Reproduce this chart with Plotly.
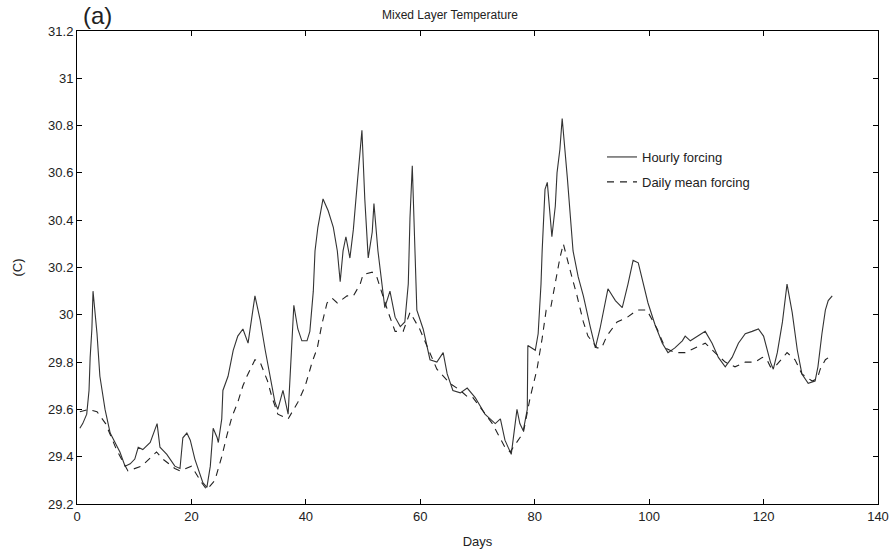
import plotly.graph_objects as go

# Hourly forcing (solid)
hourly_days = [0.5, 1.0, 1.7, 2.1, 2.3, 2.6, 2.8, 3.1, 3.5, 4.0, 4.9, 5.8, 6.6, 7.5, 8.4, 9.3,
               10.1, 10.7, 11.5, 12.8, 14.0, 14.5, 15.7, 17.1, 18.0, 18.5, 19.2, 19.8, 20.6,
               21.5, 22.0, 22.7, 23.3, 23.8, 24.5, 24.7, 25.3, 25.5, 26.4, 27.3, 28.1, 29.0,
               29.9, 31.1, 32.0, 32.9, 33.7, 34.6, 35.1, 36.0, 36.9, 37.6, 37.9, 38.6, 39.3,
               40.2, 40.7, 41.3, 41.6, 42.1, 43.0, 43.9, 44.8, 45.5, 46.0, 46.5, 47.0, 47.7,
               48.3, 49.0, 49.5, 49.8, 50.3, 50.9, 51.6, 51.9, 52.6, 53.3, 53.8, 54.7, 55.6,
               56.5, 57.3, 57.9, 58.2, 58.6, 59.1, 59.4, 60.5, 61.7, 62.9, 64.0, 64.7, 65.7,
               67.0, 68.2, 69.6, 71.3, 73.1, 74.0, 74.8, 75.9, 76.9, 77.4, 78.0, 78.7, 78.8,
               79.5, 80.1, 80.6, 81.1, 81.3, 81.8, 82.2, 82.7, 83.0, 83.6, 83.9, 84.4, 84.8,
               85.7, 86.2, 86.7, 87.6, 88.5, 89.7, 90.6, 91.4, 92.3, 92.8, 94.1, 95.3, 96.3,
               97.2, 98.1, 99.0, 99.8, 101.0, 102.3, 103.3, 104.5, 105.8, 106.3, 107.2, 108.6,
               109.8, 111.0, 112.1, 113.3, 114.5, 115.6, 116.8, 118.0, 119.1, 120.0, 120.6,
               121.2, 121.7, 122.4, 123.3, 124.1, 125.0, 125.9, 126.7, 127.8, 129.0, 129.5,
               130.2, 130.8, 131.3, 132.0]
hourly_temp = [29.52, 29.54, 29.58, 29.68, 29.82, 29.94, 30.10, 30.02, 29.92, 29.74, 29.60, 29.50,
               29.46, 29.42, 29.36, 29.37, 29.39, 29.44, 29.43, 29.46, 29.54, 29.44, 29.41, 29.36,
               29.35, 29.48, 29.50, 29.47, 29.39, 29.33, 29.29, 29.27, 29.36, 29.52, 29.48, 29.46,
               29.56, 29.68, 29.74, 29.85, 29.91, 29.94, 29.88, 30.08, 29.98, 29.85, 29.74, 29.63,
               29.60, 29.68, 29.58, 29.91, 30.04, 29.94, 29.89, 29.89, 29.93, 30.10, 30.27, 30.37,
               30.49, 30.44, 30.37, 30.27, 30.14, 30.27, 30.33, 30.24, 30.36, 30.56, 30.68, 30.78,
               30.49, 30.24, 30.35, 30.47, 30.27, 30.12, 30.03, 30.10, 29.99, 29.95, 29.97, 30.13,
               30.41, 30.63, 30.25, 30.02, 29.94, 29.81, 29.80, 29.84, 29.75, 29.68, 29.67, 29.69,
               29.65, 29.58, 29.54, 29.56, 29.47, 29.41, 29.60, 29.54, 29.51, 29.60, 29.87, 29.86,
               29.85, 29.92, 30.13, 30.27, 30.53, 30.56, 30.39, 30.33, 30.46, 30.60, 30.70, 30.83,
               30.58, 30.41, 30.27, 30.16, 30.08, 29.95, 29.86, 29.94, 30.06, 30.11, 30.06, 30.03,
               30.13, 30.23, 30.22, 30.13, 30.05, 29.96, 29.88, 29.84, 29.86, 29.89, 29.91, 29.89,
               29.91, 29.93, 29.88, 29.82, 29.78, 29.82, 29.88, 29.92, 29.93, 29.94, 29.91, 29.85,
               29.80, 29.77, 29.84, 29.97, 30.13, 30.01, 29.85, 29.75, 29.71, 29.72, 29.78, 29.92,
               30.02, 30.06, 30.08]

# Daily mean forcing (dashed)
daily_days = [0.5, 2.0, 3.5, 5.0, 6.9, 8.9, 11.3, 13.9, 15.0, 17.1, 18.0, 20.0, 21.8, 22.7, 24.1,
              25.3, 26.2, 27.1, 28.1, 29.0, 29.7, 31.1, 32.0, 33.3, 34.1, 35.1, 36.9, 38.6, 39.9,
              41.1, 42.0, 42.8, 43.7, 44.6, 45.5, 47.2, 48.3, 49.5, 50.0, 51.6, 52.4, 53.3, 54.4,
              55.6, 57.0, 58.2, 59.9, 62.9, 64.0, 65.2, 67.0, 68.4, 69.2, 72.6, 74.8, 75.7, 77.4,
              78.0, 79.2, 80.4, 81.3, 82.0, 82.8, 83.6, 84.4, 85.0, 85.7, 86.5, 87.4, 88.5, 89.3,
              90.9, 91.7, 92.6, 94.4, 96.2, 97.9, 99.6, 101.4, 102.8, 104.5, 106.3, 108.0, 109.8,
              111.5, 113.3, 115.0, 116.8, 118.5, 119.8, 120.6, 121.2, 122.0, 123.3, 124.1, 125.5,
              126.7, 128.5, 129.4, 129.9, 130.8, 132.0]
daily_temp = [29.59, 29.60, 29.59, 29.54, 29.43, 29.34, 29.36, 29.42, 29.39, 29.35, 29.34, 29.36,
              29.29, 29.26, 29.30, 29.40, 29.49, 29.57, 29.63, 29.70, 29.74, 29.81, 29.80, 29.72,
              29.65, 29.58, 29.56, 29.63, 29.70, 29.80, 29.86, 29.96, 30.05, 30.07, 30.05, 30.08,
              30.08, 30.13, 30.17, 30.18, 30.16, 30.09, 30.01, 29.93, 29.93, 30.01, 29.94, 29.77,
              29.74, 29.71, 29.68, 29.65, 29.65, 29.54, 29.44, 29.42, 29.48, 29.50, 29.65, 29.77,
              29.90, 30.02, 30.03, 30.14, 30.24, 30.30, 30.23, 30.16, 30.08, 29.97, 29.91, 29.86,
              29.86, 29.91, 29.97, 29.99, 30.02, 30.02, 29.94, 29.86, 29.84, 29.84, 29.86, 29.88,
              29.84, 29.80, 29.78, 29.80, 29.80, 29.82, 29.81, 29.78, 29.78, 29.82, 29.84, 29.81,
              29.75, 29.72, 29.73, 29.77, 29.81, 29.83]

x_ticks = [0, 20, 40, 60, 80, 100, 120, 140]
y_ticks = [29.2, 29.4, 29.6, 29.8, 30.0, 30.2, 30.4, 30.6, 30.8, 31.0, 31.2]

FONT = "Liberation Sans, Arial, sans-serif"
TXT = "#222222"

fig = go.Figure()
fig.add_trace(go.Scatter(x=hourly_days, y=hourly_temp, mode="lines", name="Hourly forcing",
                         line=dict(color="#333333", width=1.1), legendgroup="a"))
fig.add_trace(go.Scatter(x=daily_days, y=daily_temp, mode="lines", name="Daily mean forcing",
                         line=dict(color="#222222", width=1.1, dash="7px,6px"), legendgroup="b"))

axis_common = dict(showline=True, linecolor="black", linewidth=1, mirror="ticks",
                   ticks="inside", ticklen=5, tickcolor="black", showgrid=False, zeroline=False,
                   automargin=False, tickfont=dict(family=FONT, size=13, color=TXT))

L, R, T, B = 77, 16, 31, 52
W, H = 894, 556
pw, ph = W - L - R, H - T - B


def px_to_paper(px, py):
    return (px - L) / pw, (H - B - py) / ph


tx, ty = px_to_paper(450, 15)
ax_, ay_ = px_to_paper(97, 15)
lx, ly = px_to_paper(602, 142)

fig.update_layout(
    width=W, height=H,
    margin=dict(l=L, r=R, t=T, b=B),
    paper_bgcolor="white", plot_bgcolor="white",
    xaxis=dict(range=[0, 140], tickvals=x_ticks, **axis_common,
               title=dict(text="Days", font=dict(family=FONT, size=13, color=TXT), standoff=14)),
    yaxis=dict(range=[29.2, 31.2], tickvals=y_ticks, ticktext=[f"{v:g}" for v in y_ticks],
               **axis_common,
               title=dict(text="(C)", font=dict(family=FONT, size=13, color=TXT), standoff=22)),
    legend=dict(x=lx, y=ly, xanchor="left", yanchor="top", bgcolor="rgba(0,0,0,0)",
                font=dict(family=FONT, size=13, color=TXT), tracegroupgap=5),
    showlegend=True,
    annotations=[
        dict(text="Mixed Layer Temperature", x=tx, y=ty, xref="paper", yref="paper",
             xanchor="center", yanchor="middle", showarrow=False,
             font=dict(family=FONT, size=12, color=TXT)),
        dict(text="(a)", x=ax_, y=ay_, xref="paper", yref="paper",
             xanchor="center", yanchor="middle", showarrow=False,
             font=dict(family=FONT, size=24, color=TXT)),
    ],
)

fig.write_html("out.html")
